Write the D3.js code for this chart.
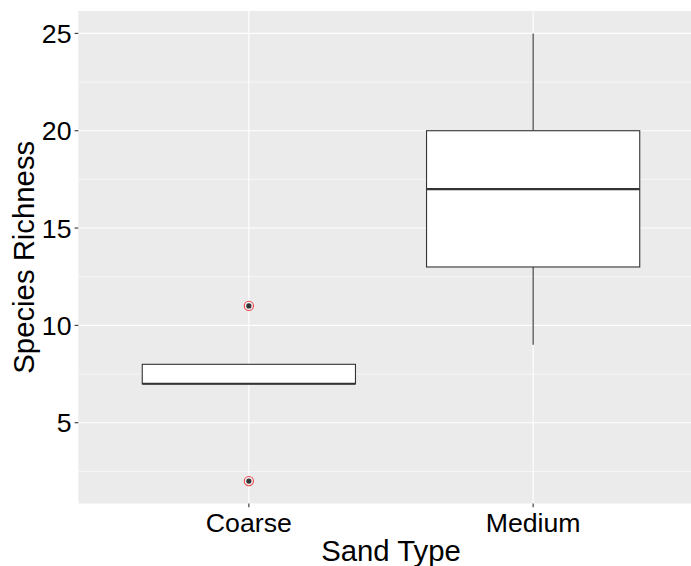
<!DOCTYPE html>
<html>
<head>
<meta charset="utf-8">
<script src="https://cdn.jsdelivr.net/npm/d3@7"></script>
<style>
  html, body { margin: 0; padding: 0; background: #fff; }
  svg { display: block; font-family: "Liberation Sans", Arial, sans-serif; }
</style>
</head>
<body>
<svg width="691" height="566"></svg>
<script>
(function (d3) {
    'use strict';

    // box summaries
    const categories = ['Coarse', 'Medium'];
    const whiskerLow = [7, 9];
    const q1 = [7, 13];
    const median = [7, 17];
    const q3 = [8, 20];
    const whiskerHigh = [8, 25];
    const outliers = [[11, 2], []];

    const yTicks = [5, 10, 15, 20, 25];
    const yMinor = [2.5, 7.5, 12.5, 17.5, 22.5];

    const svg = d3.select('svg');
    const width = 691;
    const height = 566;

    const panel = {left: 78.3, right: 703.7, top: 11, bottom: 503.5};

    const x = d3.scalePoint()
        .domain(categories)
        .range([panel.left, panel.right])
        .padding(0.6);
    const y = d3.scaleLinear()
        .domain([0.85, 26.15])
        .range([panel.bottom, panel.top]);

    const boxW = x.step() * 0.75;

    svg.append('rect')
        .attr('width', width).attr('height', height)
        .attr('fill', '#fff');

    svg.append('rect')
        .attr('x', panel.left).attr('y', panel.top)
        .attr('width', panel.right - panel.left)
        .attr('height', panel.bottom - panel.top)
        .attr('fill', '#EBEBEB');

    const grid = svg.append('g');
    grid.selectAll('line.minor').data(yMinor)
        .enter().append('line')
        .attr('x1', panel.left).attr('x2', panel.right)
        .attr('y1', d => y(d)).attr('y2', d => y(d))
        .attr('stroke', '#fff').attr('stroke-width', 0.55);
    grid.selectAll('line.major').data(yTicks)
        .enter().append('line')
        .attr('x1', panel.left).attr('x2', panel.right)
        .attr('y1', d => y(d)).attr('y2', d => y(d))
        .attr('stroke', '#fff').attr('stroke-width', 1.1);
    grid.selectAll('line.vmajor').data(categories)
        .enter().append('line')
        .attr('y1', panel.top).attr('y2', panel.bottom)
        .attr('x1', d => x(d)).attr('x2', d => x(d))
        .attr('stroke', '#fff').attr('stroke-width', 1.1);

    const stroke = '#333333';
    const boxes = svg.append('g').selectAll('g')
        .data(categories.map((c, i) => ({
            cat: c, lo: whiskerLow[i], q1: q1[i], med: median[i],
            q3: q3[i], hi: whiskerHigh[i], out: outliers[i]
        })))
        .enter().append('g');

    boxes.append('line')
        .attr('x1', d => x(d.cat)).attr('x2', d => x(d.cat))
        .attr('y1', d => y(d.q3)).attr('y2', d => y(d.hi))
        .attr('stroke', stroke).attr('stroke-width', 1.1);
    boxes.append('line')
        .attr('x1', d => x(d.cat)).attr('x2', d => x(d.cat))
        .attr('y1', d => y(d.q1)).attr('y2', d => y(d.lo))
        .attr('stroke', stroke).attr('stroke-width', 1.1);
    boxes.append('rect')
        .attr('x', d => x(d.cat) - boxW / 2)
        .attr('width', boxW)
        .attr('y', d => y(d.q3))
        .attr('height', d => y(d.q1) - y(d.q3))
        .attr('fill', '#fff')
        .attr('stroke', stroke).attr('stroke-width', 1.1);
    boxes.append('line')
        .attr('x1', d => x(d.cat) - boxW / 2).attr('x2', d => x(d.cat) + boxW / 2)
        .attr('y1', d => y(d.med)).attr('y2', d => y(d.med))
        .attr('stroke', stroke).attr('stroke-width', 2.1);

    boxes.each(function (d) {
        const g = d3.select(this);
        g.selectAll('circle.ring').data(d.out)
            .enter().append('circle')
            .attr('cx', x(d.cat)).attr('cy', v => y(v))
            .attr('r', 4.6)
            .attr('fill', 'none')
            .attr('stroke', '#F0484B').attr('stroke-width', 1.1);
        g.selectAll('circle.dot').data(d.out)
            .enter().append('circle')
            .attr('cx', x(d.cat)).attr('cy', v => y(v))
            .attr('r', 2.6)
            .attr('fill', stroke);
    });

    // y axis
    const yAxis = svg.append('g');
    yAxis.selectAll('line').data(yTicks)
        .enter().append('line')
        .attr('x1', panel.left - 3.7).attr('x2', panel.left)
        .attr('y1', d => y(d)).attr('y2', d => y(d))
        .attr('stroke', stroke).attr('stroke-width', 1.1);
    yAxis.selectAll('text').data(yTicks)
        .enter().append('text')
        .attr('x', 71.5)
        .attr('y', d => y(d) + 9.6)
        .attr('text-anchor', 'end')
        .attr('font-size', 26.7)
        .attr('fill', '#000')
        .text(d => d);

    // x axis
    const xAxis = svg.append('g');
    xAxis.selectAll('line').data(categories)
        .enter().append('line')
        .attr('x1', d => x(d)).attr('x2', d => x(d))
        .attr('y1', panel.bottom).attr('y2', panel.bottom + 3.7)
        .attr('stroke', stroke).attr('stroke-width', 1.1);
    xAxis.selectAll('text').data(categories)
        .enter().append('text')
        .attr('x', d => x(d))
        .attr('y', 531.5)
        .attr('text-anchor', 'middle')
        .attr('font-size', 26.7)
        .attr('fill', '#000')
        .text(d => d);

    svg.append('text')
        .attr('x', (panel.left + panel.right) / 2)
        .attr('y', 560.5)
        .attr('text-anchor', 'middle')
        .attr('font-size', 29.3)
        .attr('fill', '#000')
        .text('Sand Type');

    svg.append('text')
        .attr('transform', `translate(33.5,${(panel.top + panel.bottom) / 2}) rotate(-90)`)
        .attr('text-anchor', 'middle')
        .attr('font-size', 29.3)
        .attr('fill', '#000')
        .text('Species Richness');
}(d3));
</script>
</body>
</html>
